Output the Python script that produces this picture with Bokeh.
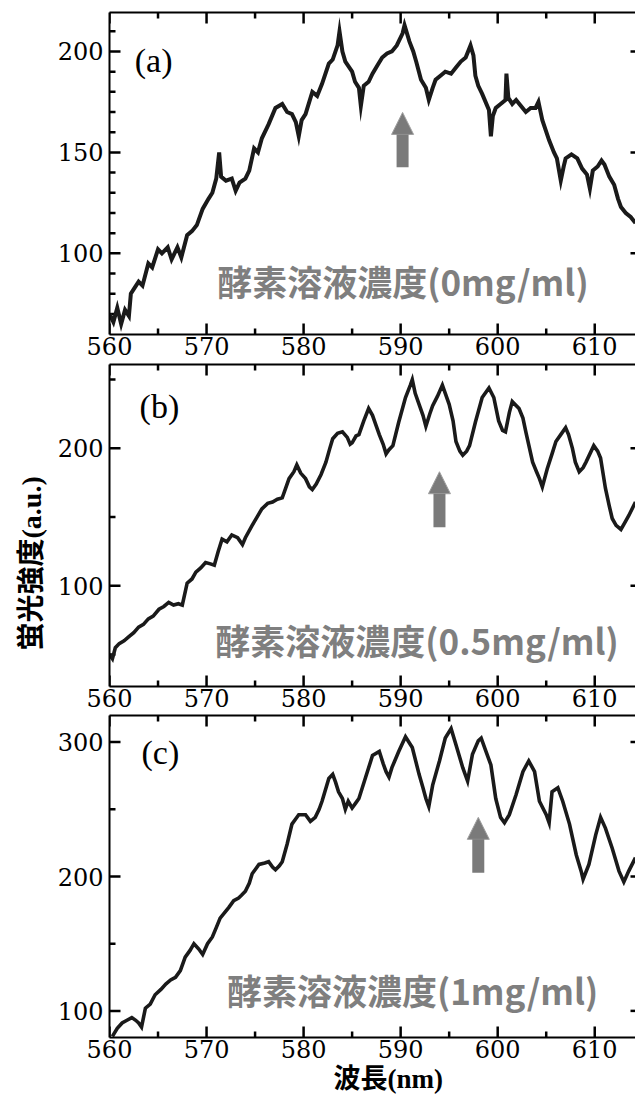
from math import pi, nan
from bokeh.plotting import figure
from bokeh.layouts import column
from bokeh.models import (Range1d, FixedTicker, LinearAxis, Label, Title,
                          Arrow, NormalHead)
from bokeh.embed import file_html
from bokeh.resources import INLINE

# ---------------- data ----------------
wl_a = [560.0, 560.4, 560.8, 561.2, 561.6, 562.0, 562.2, 562.6, 563.0, 563.4, 564.0, 564.4,
        565.0, 565.4, 566.0, 566.4, 567.0, 567.4, 568.0, 568.5, 569.0, 569.6, 570.2, 570.6,
        571.0, 571.3, 571.5, 572.0, 572.6, 573.0, 573.4, 574.0, 574.4, 574.9, 575.3, 575.7,
        576.4, 577.1, 577.8, 578.3, 578.8, 579.2, 579.5, 579.8, 580.2, 580.9, 581.4, 581.9,
        582.6, 583.0, 583.5, 583.7, 584.0, 584.3, 585.0, 585.3, 585.7, 585.9, 586.2, 586.7,
        587.1, 587.6, 588.1, 588.6, 589.1, 589.6, 590.2, 590.4, 590.9, 591.3, 591.6, 592.1,
        592.6, 592.9, 593.3, 593.6, 594.1, 594.6, 595.2, 595.7, 596.2, 596.7, 597.2, 597.5,
        597.7, 598.0, 598.4, 599.1, 599.3, 599.5, 599.8, 600.3, 600.8, 600.9, 601.1, 601.5,
        601.9, 602.4, 602.9, 603.4, 603.9, 604.2, 604.6, 605.3, 605.8, 606.1, 606.5, 606.8,
        607.0, 607.6, 608.2, 608.7, 609.2, 609.5, 609.8, 610.3, 610.7, 611.0, 611.5, 612.0,
        612.4, 612.7, 613.2, 613.7, 614.2]
int_a = [70, 66, 73, 65, 72, 69, 80, 83, 86, 84, 95, 93,
         102, 100, 103, 97, 103, 98, 109, 111, 114, 122, 127, 130,
         137, 150, 138, 136, 137, 131, 135, 137, 141, 152, 150, 157,
         164, 172, 174, 170, 169, 165, 158, 166, 169, 180, 178, 184,
         194, 196, 203, 210, 200, 195, 190, 185, 182, 173, 183, 185,
         189, 193, 197, 199, 200, 203, 209, 213, 205, 200, 195, 186,
         182, 176, 182, 186, 188, 190, 189, 192, 195, 197, 203, 198,
         188, 183, 179, 171, 158, 168, 172, 174, 176, 189, 177, 174,
         176, 173, 170, 172, 172, 175, 166, 156, 150, 147, 136, 143,
         147, 149, 147, 142, 139, 132, 141, 143, 146, 144, 138, 134,
         127, 123, 120, 118, 115]

wl_b = [560.0, 560.3, 560.6, 561.0, 561.5, 562.0, 562.5, 563.0, 563.5, 564.0, 564.5, 565.1,
        565.6, 566.1, 566.6, 567.1, 567.5, 568.0, 568.5, 568.9, 569.4, 569.9, 570.4, 570.8,
        571.2, 571.6, 572.1, 572.6, 573.2, 573.7, 574.0, 574.7, 575.2, 575.7, 576.3, 576.8,
        577.3, 577.8, 578.2, 578.5, 579.0, 579.3, 579.7, 580.2, 580.6, 580.9, 581.3, 581.8,
        582.3, 582.7, 583.0, 583.5, 584.0, 584.5, 584.8, 585.0, 585.4, 585.7, 586.2, 586.7,
        587.1, 587.5, 587.8, 588.2, 588.5, 588.8, 589.2, 589.8, 590.5, 591.0, 591.2, 591.5,
        591.9, 592.3, 592.6, 593.0, 593.3, 593.8, 594.3, 594.6, 595.0, 595.4, 595.7, 596.1,
        596.4, 596.8, 597.1, 597.7, 598.4, 599.1, 599.6, 600.1, 600.5, 600.8, 601.2, 601.5,
        602.2, 602.6, 602.9, 603.6, 604.0, 604.3, 604.6, 605.1, 605.6, 606.0, 606.5, 607.0,
        607.3, 607.7, 608.0, 608.4, 608.8, 609.1, 609.5, 609.9, 610.3, 610.6, 611.1, 611.5,
        611.8, 612.2, 612.7, 613.1, 613.5, 614.2]
int_b = [50, 47, 55, 58, 60, 63, 66, 70, 72, 76, 78, 83,
         85, 88, 86, 87, 86, 102, 105, 110, 113, 117, 116, 115,
         125, 134, 132, 137, 135, 130, 135, 144, 150, 156, 160, 161,
         163, 164, 172, 178, 183, 188, 182, 178, 172, 170, 174, 181,
         190, 200, 207, 211, 212, 208, 203, 204, 209, 210, 220, 229,
         224, 216, 210, 203, 196, 199, 202, 219, 237, 246, 250, 240,
         232, 224, 216, 225, 231, 238, 246, 240, 232, 220, 205, 198,
         195, 198, 202, 219, 237, 244, 237, 220, 213, 212, 226, 234,
         229, 222, 212, 190, 183, 178, 172, 185, 196, 205, 210, 215,
         210, 200, 190, 183, 186, 190, 196, 202, 198, 193, 171, 158,
         149, 144, 141, 146, 151, 161]

wl_c = [560.3, 560.8, 561.3, 561.8, 562.3, 562.7, 563.0, 563.3, 563.7, 564.2, 564.7, 565.3,
        565.8, 566.3, 566.8, 567.3, 567.8, 568.3, 568.7, 569.2, 569.6, 570.1, 570.6, 571.0,
        571.4, 572.3, 572.8, 573.3, 573.6, 574.0, 574.4, 574.7, 575.4, 576.0, 576.4, 576.8,
        577.1, 577.5, 577.8, 578.3, 578.8, 579.2, 579.5, 580.2, 580.7, 581.2, 581.6, 581.9,
        582.6, 583.0, 583.3, 583.6, 584.0, 584.3, 584.6, 585.0, 585.4, 585.7, 586.4, 587.1,
        587.8, 588.2, 588.5, 588.8, 589.1, 589.8, 590.5, 591.2, 591.9, 592.3, 592.6, 592.9,
        593.3, 594.0, 594.6, 595.2, 595.7, 596.4, 596.9, 597.4, 598.0, 598.3, 598.8, 599.3,
        599.8, 600.3, 600.7, 601.2, 601.9, 602.6, 603.2, 603.8, 604.3, 605.0, 605.3, 605.6,
        606.2, 606.7, 607.4, 608.1, 608.6, 608.8, 609.4, 610.1, 610.6, 611.1, 611.8, 612.5,
        613.0, 613.5, 614.2]
int_c = [81, 87, 91, 93, 95, 93, 91, 88, 102, 105, 112, 116,
         120, 123, 125, 130, 140, 145, 150, 146, 142, 150, 155, 162,
         169, 177, 182, 184, 186, 189, 195, 202, 209, 210, 211, 207,
         205, 208, 211, 224, 239, 243, 246, 246, 241, 244, 250, 256,
         273, 276, 270, 263, 258, 250, 256, 251, 255, 258, 274, 290,
         293, 284, 278, 274, 281, 293, 304, 296, 276, 266, 258, 252,
         268, 286, 303, 310, 298, 281, 271, 291, 301, 303, 293, 283,
         258, 244, 240, 246, 261, 278, 286, 278, 256, 246, 240, 263,
         266, 256, 239, 216, 204, 198, 209, 231, 244, 236, 221, 204,
         196, 204, 214]

panel_tags = ["(a)", "(b)", "(c)"]
concentrations = ["酵素溶液濃度(0mg/ml)", "酵素溶液濃度(0.5mg/ml)", "酵素溶液濃度(1mg/ml)"]
x_major = [560, 570, 580, 590, 600, 610]
x_minor = [565, 575, 585, 595, 605]
x_limits = (560.0, 614.2)
y_limits = [(59.8, 219.3), (26.8, 261.0), (80.2, 319.8)]
y_major = [[100, 150, 200], [100, 200], [100, 200, 300]]
y_minor = [[70, 80, 90, 110, 120, 130, 140, 160, 170, 180, 190, 210],
           [50, 150, 250],
           [150, 250]]
arrow_x = [590.2, 594.0, 598.0]
arrow_y0 = [142.6, 142.7, 202.7]
arrow_y1 = [169.8, 183.0, 244.0]
tag_pos = [(562.6, 195.6), (563.1, 230.5), (563.3, 292.0)]
conc_pos = [(571.1, 86.5), (570.9, 61.0), (572.1, 116.0)]
line_widths = [4.0, 3.6, 3.6]
x_title = "波長(nm)"
y_title = "蛍光強度(a.u.)"

TICK_FONT = "DejaVu Serif"
TITLE_FONT = "Liberation Serif, Noto Sans CJK JP"
GRAY = "#7f7f7f"
FIG_W = 635
BORDER_L = 109
FRAME_H = 322
MAJOR_LEN = 11
MINOR_LEN = 6
RIGHT_LEN = 5


def label_axis(ticks):
    ax = LinearAxis(ticker=FixedTicker(ticks=ticks))
    ax.axis_line_width = 2
    ax.axis_line_color = "black"
    ax.major_tick_in = 0
    ax.major_tick_out = 0
    ax.minor_tick_in = 0
    ax.minor_tick_out = 0
    ax.major_label_text_font = TICK_FONT
    ax.major_label_text_font_size = "24px"
    ax.major_label_text_color = "black"
    ax.major_label_standoff = 2
    return ax


def tick_segments(i):
    """Inward tick marks as separate segments in data units."""
    x0, x1 = x_limits
    y0, y1 = y_limits[i]
    ux = (x1 - x0) / (FIG_W - BORDER_L)   # data units per pixel
    uy = (y1 - y0) / FRAME_H
    xa, ya, xb, yb = [], [], [], []

    def seg(p, q, r, s):
        xa.append(p); ya.append(q); xb.append(r); yb.append(s)

    for v in y_major[i]:
        seg(x0, v, x0 + MAJOR_LEN * ux, v)
        seg(x1, v, x1 - RIGHT_LEN * ux, v)
    for v in y_minor[i]:
        seg(x0, v, x0 + MINOR_LEN * ux, v)
    for v in x_major:
        seg(v, y0, v, y0 + MAJOR_LEN * uy)
        seg(v, y1, v, y1 - MAJOR_LEN * uy)
    for v in x_minor:
        seg(v, y0, v, y0 + MINOR_LEN * uy)
        seg(v, y1, v, y1 - MINOR_LEN * uy)
    return xa, ya, xb, yb


def make_panel(i, wl, inten, top_border, bottom_border):
    y0, y1 = y_limits[i]
    x0, x1 = x_limits
    p = figure(width=FIG_W, height=top_border + FRAME_H + bottom_border,
               output_backend="svg", toolbar_location=None,
               x_range=Range1d(x0, x1), y_range=Range1d(y0, y1),
               x_axis_location=None, y_axis_location=None,
               min_border_left=BORDER_L, min_border_right=0,
               min_border_top=top_border, min_border_bottom=bottom_border)
    p.outline_line_color = None
    p.grid.visible = False
    p.background_fill_color = "white"
    p.border_fill_color = "white"

    bottom = label_axis(x_major)
    p.add_layout(bottom, "below")
    left = label_axis(y_major[i])
    left.major_label_standoff = 6
    p.add_layout(left, "left")
    top = label_axis([])
    p.add_layout(top, "above")

    xa, ya, xb, yb = tick_segments(i)
    p.segment(x0=xa, y0=ya, x1=xb, y1=yb, line_color="black", line_width=2.5,
              line_cap="butt")

    p.line(wl, inten, line_color="#1a1a1a", line_width=line_widths[i], line_join="miter")

    tx, ty = tag_pos[i]
    p.add_layout(Label(x=tx, y=ty, text=panel_tags[i], text_font="Liberation Serif",
                       text_font_size="34px", text_color="black",
                       text_baseline="middle", text_align="left"))
    cx, cy = conc_pos[i]
    p.add_layout(Label(x=cx, y=cy, text=concentrations[i], text_font="Noto Sans CJK JP",
                       text_font_size="35px", text_font_style="bold", text_color=GRAY,
                       text_baseline="middle", text_align="left"))
    p.add_layout(Arrow(x_start=arrow_x[i], y_start=arrow_y0[i], x_end=arrow_x[i], y_end=arrow_y1[i],
                       line_width=12, line_color="#7a7a7a", line_cap="butt",
                       end=NormalHead(size=22, fill_color="#7a7a7a", line_color="#a0a0a0",
                                      line_width=1)))
    return p


pa = make_panel(0, wl_a, int_a, 12, 29)
pb = make_panel(1, wl_b, int_b, 1, 28)
pc = make_panel(2, wl_c, int_c, 1, 63)

pb.add_layout(Title(text=y_title, align="left", offset=36, standoff=16,
                    text_font=TITLE_FONT, text_font_size="28px", text_font_style="bold",
                    text_color="black"), "left")
pc.add_layout(Title(text=x_title, align="left", offset=224, standoff=2,
                    text_font=TITLE_FONT, text_font_size="27px", text_font_style="bold",
                    text_color="black"), "below")

layout = column(pa, pb, pc, spacing=0)
open("out.html", "w").write(file_html(layout, INLINE))
